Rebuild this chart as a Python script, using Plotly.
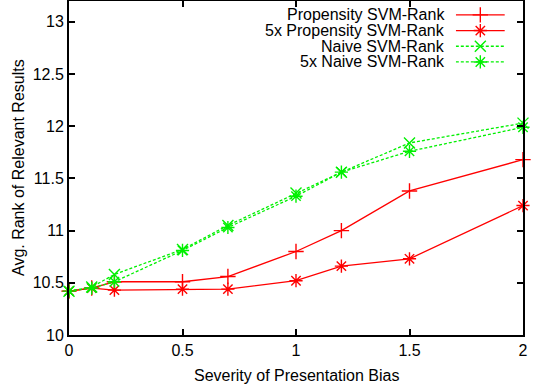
import plotly.graph_objects as go

# Severity of presentation bias (x) and average rank of relevant results (y)
severity = [0, 0.1, 0.2, 0.5, 0.7, 1, 1.2, 1.5, 2]
prop_svm = [10.42, 10.45, 10.51, 10.51, 10.56, 10.80, 11.00, 11.38, 11.68]
prop_svm_5x = [10.42, 10.45, 10.43, 10.44, 10.44, 10.52, 10.66, 10.73, 11.24]
naive_svm = [10.42, 10.46, 10.58, 10.82, 11.05, 11.36, 11.56, 11.84, 12.03]
naive_svm_5x = [10.42, 10.45, 10.51, 10.81, 11.03, 11.33, 11.56, 11.76, 11.99]

names = ['Propensity SVM-Rank', '5x Propensity SVM-Rank', 'Naive SVM-Rank', '5x Naive SVM-Rank']
series = [prop_svm, prop_svm_5x, naive_svm, naive_svm_5x]
colors = ['#ff0000', '#ff0000', '#00f000', '#00f000']
dashes = ['solid', 'solid', '3px,2px', '3px,2px']
symbols = ['cross-thin-open', 'asterisk-open', 'x-thin-open', 'asterisk-open']

font = dict(family='Liberation Sans, Arial, sans-serif', size=16, color='black')

fig = go.Figure()
for i in range(4):
    fig.add_trace(go.Scatter(
        x=severity, y=series[i], mode='lines+markers', name=names[i], showlegend=False,
        line=dict(color=colors[i], width=1.3, dash=dashes[i]),
        marker=dict(symbol=symbols[i], size=11, color=colors[i], line=dict(color=colors[i], width=1.4)),
        cliponaxis=False))

# legend key, gnuplot style: text on the left, sample on the right
for i in range(4):
    row = 3 - i
    fig.add_trace(go.Scatter(
        x=[0, 0.5, 1], y=[row] * 3, mode='lines', xaxis='x2', yaxis='y2', showlegend=False,
        line=dict(color=colors[i], width=1.3, dash=dashes[i]), hoverinfo='skip'))
    fig.add_trace(go.Scatter(
        x=[0.5], y=[row], mode='markers', xaxis='x2', yaxis='y2', showlegend=False,
        marker=dict(symbol=symbols[i], size=11, color=colors[i], line=dict(color=colors[i], width=1.4)),
        hoverinfo='skip'))
    fig.add_annotation(x=0, y=row, xref='x2', yref='y2', text=names[i], showarrow=False,
                       xanchor='right', yanchor='middle', xshift=-9, font=font)

# axis titles
fig.add_annotation(x=0.5, y=0, xref='paper', yref='paper', yshift=-40, text='Severity of Presentation Bias',
                   showarrow=False, xanchor='center', yanchor='middle', font=font)
fig.add_annotation(x=0, y=0.5, xref='paper', yref='paper', xshift=-51, text='Avg. Rank of Relevant Results',
                   showarrow=False, xanchor='center', yanchor='middle', textangle=-90, font=font)

axis_common = dict(showline=True, linecolor='black', linewidth=2, mirror='ticks',
                   ticks='inside', ticklen=6, tickwidth=1.5, tickcolor='black',
                   showgrid=False, zeroline=False, tickfont=font, automargin=False)

fig.update_layout(
    width=538, height=387,
    margin=dict(l=69, r=15, t=1, b=52),
    plot_bgcolor='white', paper_bgcolor='white',
    font=font,
    xaxis=dict(range=[0, 2], dtick=0.5, tick0=0, **axis_common),
    yaxis=dict(range=[10, 13.2], dtick=0.5, tick0=10, **axis_common),
    xaxis2=dict(domain=[0.852, 0.960], range=[0, 1], visible=False, anchor='y2'),
    yaxis2=dict(domain=[0.794, 0.982], range=[-0.5, 3.5], visible=False, anchor='x2'),
)
fig.write_html('out.html', config={'displayModeBar': False},
               post_script="document.body.style.margin='0px';")
